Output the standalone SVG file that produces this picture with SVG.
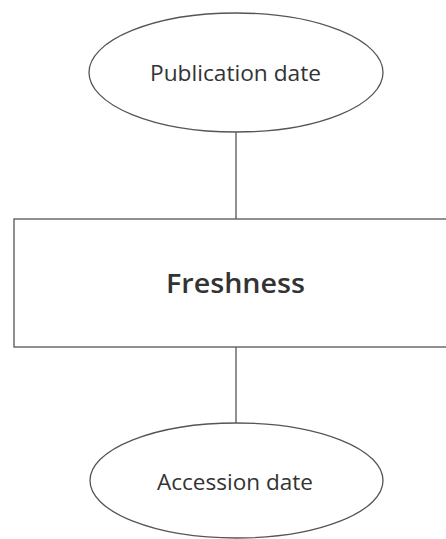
<svg xmlns="http://www.w3.org/2000/svg" width="446" height="539" viewBox="0 0 446 539">
<style>
.shape{fill:#fff;stroke:#555;stroke-width:1.3}
.conn{stroke:#555;stroke-width:1.3;fill:none}
.lbl{font-family:"Open Sans","Liberation Sans",sans-serif;fill:#333;text-anchor:middle}
</style>
<rect width="446" height="539" fill="#fff"/>
<g id="connectors">
<line class="conn" x1="236" y1="132" x2="236" y2="219"/>
<line class="conn" x1="236" y1="347" x2="236" y2="423"/>
</g>
<g id="publication">
<ellipse class="shape" cx="236" cy="72.5" rx="147" ry="59.5"/>
<text class="lbl" x="235.5" y="81" font-size="22.5" textLength="171" lengthAdjust="spacingAndGlyphs">Publication date</text>
</g>
<g id="freshness">
<rect class="shape" x="14" y="219" width="440" height="128"/>
<text class="lbl" x="235.5" y="293" font-size="27" font-weight="600" textLength="139" lengthAdjust="spacingAndGlyphs">Freshness</text>
</g>
<g id="accession">
<ellipse class="shape" cx="236.5" cy="480.5" rx="146.5" ry="57.5"/>
<text class="lbl" x="235" y="490" font-size="22.5" textLength="156" lengthAdjust="spacingAndGlyphs">Accession date</text>
</g>
</svg>
